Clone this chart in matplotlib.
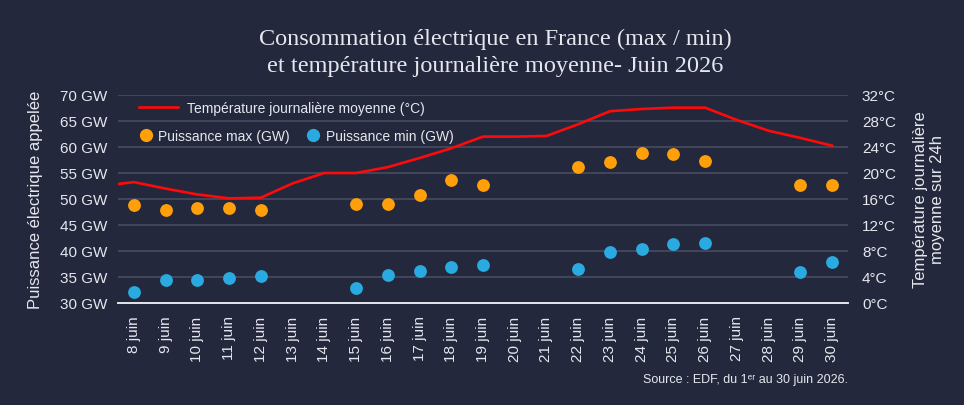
import matplotlib.pyplot as plt
from matplotlib.lines import Line2D

# data
jours = [f"{d} juin" for d in range(8, 31)]
temp_jours = list(range(7, 31))  # 7 juin is only visible as the line entering the frame
temperature = [18.0, 18.6, 17.6, 16.7, 16.1, 16.2, 18.4, 20.0, 20.0, 20.9, 22.3, 23.8,
               25.6, 25.6, 25.7, 27.5, 29.5, 29.85, 30.05, 30.05, 28.15, 26.5, 25.4, 24.2]
max_jours = [8, 9, 10, 11, 12, 15, 16, 17, 18, 19, 22, 23, 24, 25, 26, 29, 30]
puissance_max = [48.9, 47.9, 48.3, 48.25, 47.9, 49.0, 49.0, 50.8, 53.7, 52.75,
                 56.1, 57.05, 58.8, 58.65, 57.3, 52.75, 52.6]
puissance_min = [32.05, 34.4, 34.4, 34.9, 35.1, 32.9, 35.3, 36.2, 36.9, 37.25,
                 36.5, 39.75, 40.45, 41.3, 41.6, 36.0, 37.8]
gw_ticks = [30, 35, 40, 45, 50, 55, 60, 65, 70]
temp_ticks = [0, 4, 8, 12, 16, 20, 24, 28, 32]

BG = "#24283c"
FG = "#e6e7ee"
GRID = "#4b4f63"
ORANGE = "#ff9f0a"
BLUE = "#29abe2"
RED = "#ff0a0a"

plt.rcParams['font.family'] = ['Liberation Sans', 'DejaVu Sans']

fig = plt.figure(figsize=(9.64, 4.06), dpi=100, facecolor=BG)
ax = fig.add_axes([118 / 964, 1 - 304 / 406, 730 / 964, 208 / 406])
ax.set_facecolor(BG)
ax2 = ax.twinx()

xmax = [d - 8 for d in max_jours]
xt = [d - 8 for d in temp_jours]

ax.scatter(xmax, puissance_max, s=85, color=ORANGE, zorder=3, linewidths=0)
ax.scatter(xmax, puissance_min, s=85, color=BLUE, zorder=3, linewidths=0)
ax2.plot(xt, temperature, color=RED, lw=1.9, zorder=4)

ax.set_xlim(-0.5, len(jours) - 0.5)
ax.set_ylim(30, 70)
ax2.set_ylim(0, 32)
ax.set_xticks(range(len(jours)))
ax.set_xticklabels(jours, rotation=90, fontsize=11, color=FG)
ax.set_yticks(gw_ticks)
ax.set_yticklabels([f"{v} GW" for v in gw_ticks], fontsize=11, color=FG)
ax2.set_yticks(temp_ticks)
ax2.set_yticklabels([f"{v}°C" for v in temp_ticks], fontsize=11, color=FG)
ax.tick_params(axis='both', length=0, pad=8)
ax.tick_params(axis='x', pad=9)
ax2.tick_params(axis='y', length=0, pad=10)

ax.grid(axis='y', color=GRID, lw=1.1)
ax.set_axisbelow(True)
for a in (ax, ax2):
    for side in ('top', 'left', 'right'):
        a.spines[side].set_visible(False)
    a.spines['bottom'].set_color(FG)
    a.spines['bottom'].set_linewidth(1.2)

ax.set_ylabel("Puissance électrique appelée", fontsize=12, color=FG, labelpad=12)
ax2.set_ylabel("Température journalière\nmoyenne sur 24h", fontsize=12, color=FG,
               rotation=90, labelpad=12, linespacing=1.2)

fig.text(0.514, 0.87, "Consommation électrique en France (max / min)\n"
         "et température journalière moyenne- Juin 2026",
         ha='center', va='center', fontsize=17.5, color=FG,
         family='Liberation Serif', linespacing=1.4)

fig.text(848 / 964, 1 - 380 / 406, "Source : EDF, du 1ᵉʳ au 30 juin 2026.",
         ha='right', va='center', fontsize=9, color=FG)

h_line = [Line2D([], [], color=RED, lw=1.9)]
leg1 = ax.legend(h_line, ["Température journalière moyenne (°C)"], loc='upper left',
                 bbox_to_anchor=(0.014, 1.02), frameon=False, fontsize=10,
                 labelcolor=FG, handlelength=2.8, handletextpad=0.7,
                 borderaxespad=0.35)
ax.add_artist(leg1)
h_dots = [Line2D([], [], marker='o', ls='', color=ORANGE, markersize=9.5, mew=0),
          Line2D([], [], marker='o', ls='', color=BLUE, markersize=9.5, mew=0)]
ax.legend(h_dots, ["Puissance max (GW)", "Puissance min (GW)"], loc='upper left',
          bbox_to_anchor=(0.014, 0.885), frameon=False, fontsize=10, labelcolor=FG,
          ncol=2, handlelength=1.0, handletextpad=0.4, columnspacing=1.2,
          borderaxespad=0.35)

fig.savefig("out.png", dpi=100, facecolor=BG)
